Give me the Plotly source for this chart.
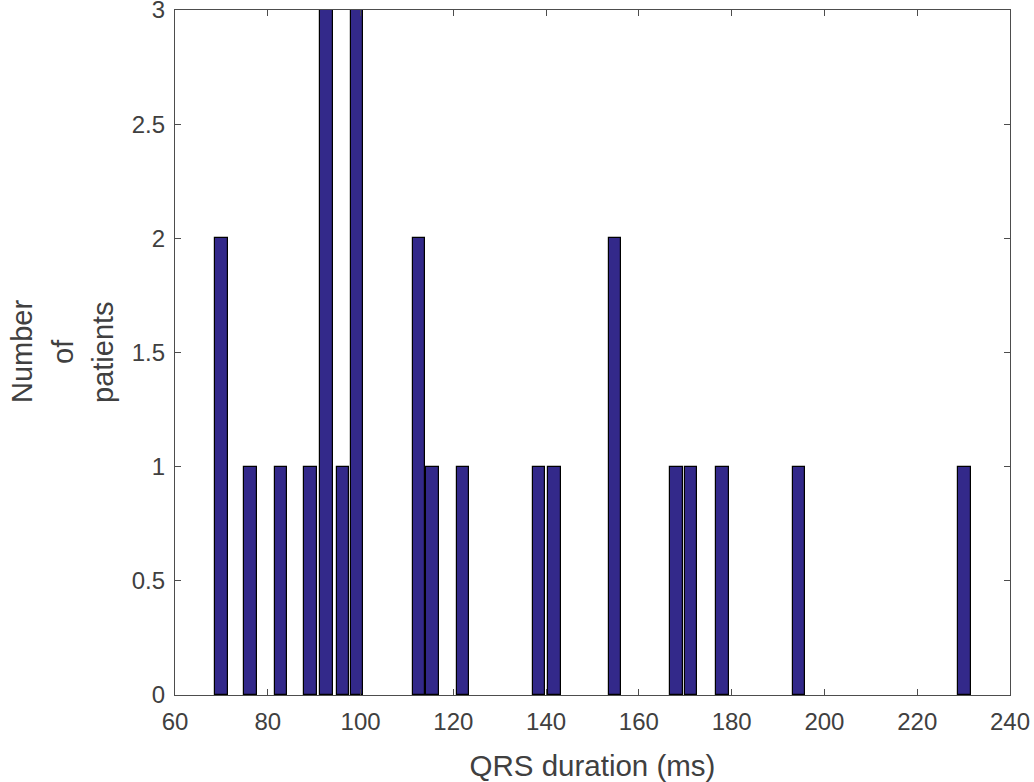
import plotly.graph_objects as go

# QRS duration (ms) of each distinct value and the number of patients at it
qrs_ms = [70.0, 76.3, 82.8, 89.2, 92.7, 96.2, 99.2, 112.6, 115.5, 122.1,
          138.5, 141.8, 154.8, 168.1, 171.2, 178.0, 194.5, 230.2]
patients = [2, 1, 1, 1, 3, 1, 3, 2, 1, 1,
            1, 1, 2, 1, 1, 1, 1, 1]

x_ticks = [60, 80, 100, 120, 140, 160, 180, 200, 220, 240]
y_ticks = [0, 0.5, 1, 1.5, 2, 2.5, 3]
y_tick_text = ["0", "0.5", "1", "1.5", "2", "2.5", "3"]

text_color = "#404040"
axis_color = "#4d4d4d"
font_family = "Liberation Sans, Arial, sans-serif"

fig = go.Figure()
fig.add_trace(go.Bar(
    x=qrs_ms,
    y=patients,
    width=2.7,
    marker=dict(color="#33298a", line=dict(color="#000000", width=1.2)),
    showlegend=False,
))

axis_common = dict(
    showline=True, linecolor=axis_color, linewidth=1.3,
    mirror="ticks", ticks="inside", ticklen=6, tickcolor=axis_color,
    showgrid=False, zeroline=False, automargin=False,
    ticklabeloverflow="allow",
    tickfont=dict(family=font_family, size=24, color=text_color),
)

fig.update_xaxes(
    range=[60, 240], tickvals=x_ticks,
    title=dict(text="QRS duration (ms)", standoff=22,
               font=dict(family=font_family, size=29.5, color=text_color)),
    ticklabelstandoff=5,
    **axis_common,
)
fig.update_yaxes(
    range=[0, 3], tickvals=y_ticks, ticktext=y_tick_text,
    ticklabelstandoff=4,
    **axis_common,
)

# Three-line y-axis label, one rotated line per word
for word, xpos in [("Number", 22), ("of", 63), ("patients", 103)]:
    fig.add_annotation(
        text=word, textangle=-90, showarrow=False,
        xref="paper", yref="paper",
        x=(xpos - 175) / (1010 - 175), y=(695 - 352) / (695 - 10),
        xanchor="center", yanchor="middle",
        font=dict(family=font_family, size=29, color=text_color),
    )

fig.update_layout(
    width=1034, height=782,
    margin=dict(l=175, r=24, t=10, b=87),
    paper_bgcolor="white", plot_bgcolor="white",
    bargap=0,
)

fig.write_html("out.html")
